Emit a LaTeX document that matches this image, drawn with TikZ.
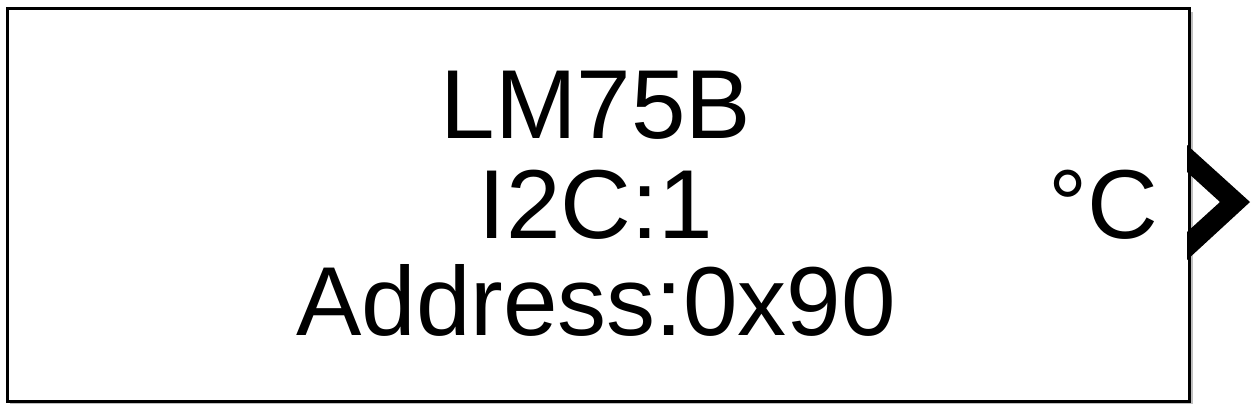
\documentclass[tikz,border=0pt]{standalone}
\usepackage{fontspec}
\setmainfont{Liberation Sans}
\begin{document}
\begin{tikzpicture}[x=1pt,y=-1pt,
  blockbox/.style={draw=black,line width=3.5pt,fill=white},
  blocktext/.style={font=\fontsize{98}{102}\selectfont,inner sep=0pt,anchor=base},
  shadowline/.style={draw=black!25,line width=2pt}]
\useasboundingbox (0,0) rectangle (1260,413);
\draw[shadowline] (10,403) -- (1192,403) -- (1192,12);
\node[blockbox,minimum width=1182pt,minimum height=393pt,inner sep=0pt,anchor=north west] (blk) at (5.5,6.5) {};
\node[blocktext] (t1) at (596,138) {LM75B};
\node[blocktext] (t2) at (596,238) {I2C:1};
\node[blocktext] (t3) at (596,335) {Address:0x90};
\node[blocktext] (unit) at (1103,238) {°C};
\fill[black] (1187,145) -- (1250,202) -- (1187,260) -- (1187,232) -- (1220,202) -- (1187,172) -- cycle;
\end{tikzpicture}
\end{document}
